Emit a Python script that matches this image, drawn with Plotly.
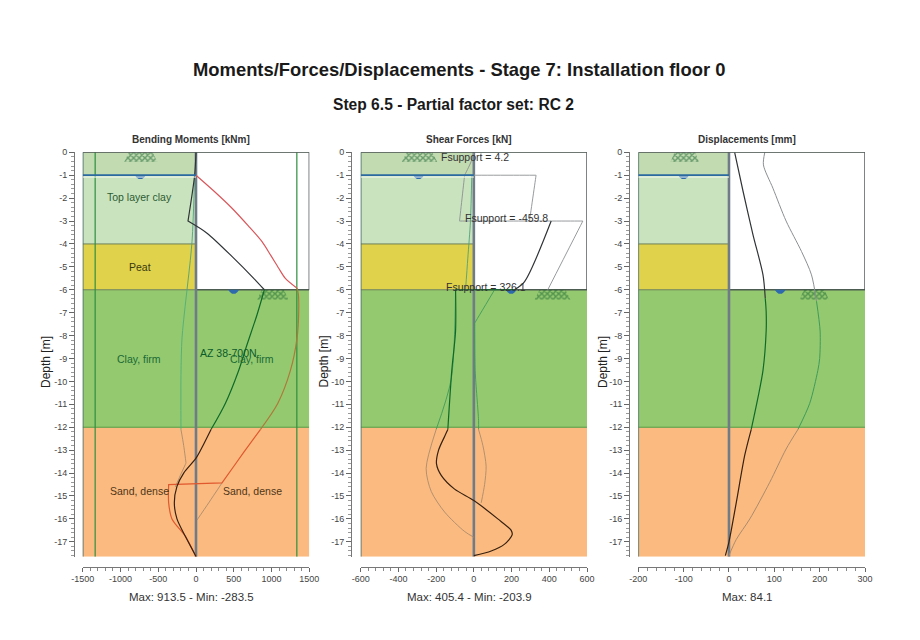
import plotly.graph_objects as go

W, H = 920, 640
MAIN_TITLE = "Moments/Forces/Displacements - Stage 7: Installation floor 0"
SUB_TITLE = "Step 6.5 - Partial factor set: RC 2"
PANEL_TITLES = ["Bending Moments [kNm]", "Shear Forces [kN]", "Displacements [mm]"]
PANEL_NOTES = ["Max: 913.5 - Min: -283.5", "Max: 405.4 - Min: -203.9", "Max: 84.1"]
DEPTH_LABEL = "Depth [m]"
DEPTH_TICKS = [0, -1, -2, -3, -4, -5, -6, -7, -8, -9, -10, -11, -12, -13, -14, -15, -16, -17]

X_TICKS = [[-1500, -1000, -500, 0, 500, 1000, 1500],
           [-600, -400, -200, 0, 200, 400, 600],
           [-200, -100, 0, 100, 200, 300]]
X_RANGES = [(-1500, 1500), (-600, 600), (-200, 300)]
X_MINOR = [100, 40, 20]

# soil layers: top, bottom, colour
LAYER_TOPS = [0, -1, -4, -6, -12]
LAYER_BOTTOMS = [-1, -4, -6, -12, -17.65]
LAYER_COLORS = ["#c2dbb0", "#cae3bf", "#e0d24b", "#94c96f", "#fbbb80"]

# Bending moments (a repeated point is a sharp corner)
M_MAX_DEPTH = [-1, -1, -1.7, -2.44, -3.2, -3.9, -4.5, -5.06, -5.5, -5.93, -5.93, -6.2, -6.95, -8.1, -9.52, -10.96, -12.1, -13.1, -14.43, -14.43, -14.5, -14.5, -15.3, -16, -16.76, -17.64]
M_MAX = [0, 0, 240, 477, 690, 874, 990, 1095, 1183, 1338, 1338, 1355, 1360, 1338, 1250, 1082, 852, 631, 344, 344, -362, -362, -362, -318, -141, 0]
M_TAIL_DEPTH = [-14.43, -15.3, -16.05]
M_TAIL = [344, 168, 13]
M_DES_DEPTH = [0, -1, -3, -3, -3.53, -4.62, -5.5, -6, -6, -7.09, -8.4, -9.52, -10.96, -12.1, -12.75, -13.35, -14, -14.58, -15.3, -16, -16.76, -17.64]
M_DES = [0, -18, -106, -106, 146, 499, 764, 905, 905, 808, 675, 565, 388, 199, 100, 0, -163, -252, -287, -252, -141, 0]
M_MIN_DEPTH = [-1, -3.9, -6, -8.1, -9.7, -12.1, -12.8, -13.56, -13.56, -14.1, -14.6]
M_MIN = [-18, -53, -119, -185, -199, -199, -163, -132, -132, -207, -274]
SHEET_LIMIT = [-1335, 1335]

# Shear forces
V_DES_DEPTH = [-3, -5.64, -6, -6, -6, -7.8, -9.52, -12.1, -12.1, -12.4, -13, -13.6, -14.1, -14.7, -15.2, -16, -16.5, -16.7, -17.1, -17.4, -17.6]
V_DES = [410, 269, 215, -97, -97, -97, -117, -138, -138, -155, -187, -198, -173, -102, 0, 127, 198, 203, 163, 92, 0]
V_UP_DEPTH = [0, -0.4, -1, -1, -1, -1, -3, -3, -3, -3, -6]
V_UP = [0, -14, -49, -49, 330, 330, 295, 295, 578, 578, 392]
V_UP_LEFT_DEPTH = [-1, -1, -3, -3, -3, -3]
V_UP_LEFT = [-49, -49, -76, -76, 295, 295]
V_NEAR_DEPTH = [-1, -3, -4.62, -6]
V_NEAR = [-11, -18, -32, -44]
V_RIGHT_DEPTH = [-6, -7.46, -7.46, -9.52, -11.7, -12.1, -12.8, -13.7, -14.5, -15.3]
V_RIGHT = [110, 4, 4, 7, 25, 25, 48, 65, 57, 39]
V_LEFT_DEPTH = [-6, -9.9, -12.1, -13.8, -14.8, -15.7, -16.55, -16.8]
V_LEFT = [-97, -120, -200, -253, -226, -155, -49, 0]

# Displacements
U_DES_DEPTH = [0, -1.7, -3.6, -5.35, -6.37, -6.95, -7.8, -9.52, -10.7, -12.1, -13.2, -15.3, -17, -17.6]
U_DES = [12.5, 31, 53, 75, 80, 82, 82, 75, 64, 49, 35, 16, 0, -8]
U_ENV_DEPTH = [0, -0.55, -1.57, -3, -4.33, -5.35, -6.5, -7.8, -9, -9.52, -10.96, -12.1, -12.95, -14.4, -16, -16.9, -17.6]
U_ENV = [79, 76, 97, 126, 160, 182, 193, 201, 200, 196, 178, 152, 126, 90, 46, 16, 0]

# symbols: ground hatch and water level positions per panel
HATCH_UPPER = [(-950, -512), (-382, -194), (-129, -66)]
HATCH_LOWER = [(812, 1222), (322, 512), (156, 220)]
WATER_UPPER = [-737, -293, -100]
WATER_LOWER = [499, 198, 113]
LEVELS = [-1, -6]

# soil and force labels
LABEL_PANEL = [0, 0, 0, 0, 0, 0, 0, 1, 1, 1]
LABEL_X = [-751, -740, -751, 745, 428, -751, 745, -186, -57, -158]
LABEL_DEPTH = [-1.97, -5, -9, -9, -8.75, -14.8, -14.8, -0.2, -2.86, -5.87]
LABEL_TEXT = ["Top layer clay", "Peat", "Clay, firm", "Clay, firm", "AZ 38-700N", "Sand, dense", "Sand, dense",
              "Fsupport = 4.2", "Fsupport = -459.8", "Fsupport = 326.1"]
LABEL_COLOR = ["#2d5b32", "#3a3a10", "#1a6a35", "#1a6a35", "#0b5a2a", "#4f3518", "#4f3518", "#333", "#333", "#333"]
LABEL_ANCHOR = ["center"] * 7 + ["left"] * 3

# layout geometry (pixels in the 920x640 picture)
PLOT_L = [82.7, 360.7, 638.3]
PLOT_R = [309.3, 587.0, 865.0]
PLOT_T, PLOT_B = 152.3, 556.7
YAXIS_PX = [74, 351, 629]
XAXIS_PX = 566.5
DEPTH_PX = [46, 323.5, 603]
OFFSET_X, OFFSET_Y = 8, 8
FONT = "Liberation Sans"

BLACK = ("#2f3436", "#0f6a2a", "#38200f")
GREY = ("#8b8f92", "#3f9b5a", "#ac8a6c")
RED = ("#d9565a", "#ad7a3a", "#e0582e")
WALLSIDE = ("#4fa27a", "#4fae7a", "#ac8a6c")

fx = lambda p: (p - OFFSET_X) / W
fy = lambda p: 1 - (p - OFFSET_Y) / H

fig = go.Figure()
shapes, notes = [], []


def curve(panel, xs, ds, colors, width):
    """Draw one curve; colour follows the soil zone as in the source picture."""
    axis = "" if panel == 0 else str(panel + 1)
    def zone(d):
        return 0 if d > -6 else (1 if d > -12 else 2)
    start = 0
    for i in range(1, len(xs) + 1):
        cur = zone((ds[i - 1] + ds[i]) / 2) if i < len(xs) else None
        prev = zone((ds[start] + ds[start + 1]) / 2)
        if cur != prev:
            fig.add_trace(go.Scatter(x=xs[start:i], y=ds[start:i], mode="lines", showlegend=False,
                                     hoverinfo="skip",
                                     line=dict(color=colors[prev], width=width, shape="spline", smoothing=0.8),
                                     xaxis="x" + axis, yaxis="y" + axis))
            start = i - 1


for p in range(3):
    axis = "" if p == 0 else str(p + 1)
    xr, yr = "x" + axis, "y" + axis
    lo, hi = X_RANGES[p]

    for top, bot, col in zip(LAYER_TOPS, LAYER_BOTTOMS, LAYER_COLORS):
        right = 0 if bot >= -6 else hi
        shapes.append(dict(type="rect", xref=xr, yref=yr, x0=lo, x1=right, y0=bot, y1=top,
                           fillcolor=col, line_width=0, layer="below"))
    for level, col, right, w in [(-4, "#6e7f55", 0, 1), (-6, "#4d5c50", hi, 1.4), (-12, "#4f9a3e", hi, 1.2)]:
        shapes.append(dict(type="line", xref=xr, yref=yr, x0=lo if level != -6 else 0, x1=right, y0=level, y1=level,
                           line=dict(color=col, width=w), layer="below"))
    shapes.append(dict(type="line", xref=xr, yref=yr, x0=lo, x1=0, y0=-6, y1=-6,
                       line=dict(color="#6e7f55", width=1), layer="below"))
    shapes.append(dict(type="line", xref=xr, yref=yr, x0=lo, x1=hi, y0=0, y1=0, line=dict(color="#3f4a44", width=1.4)))
    shapes.append(dict(type="line", xref=xr, yref=yr, x0=hi, x1=hi, y0=0, y1=-6, line=dict(color="#4a4f52", width=1.4)))
    shapes.append(dict(type="line", xref=xr, yref=yr, x0=lo, x1=lo, y0=0, y1=-17.65, line=dict(color="#4c6f6a", width=1.6)))
    shapes.append(dict(type="line", xref=xr, yref=yr, x0=lo, x1=0, y0=LEVELS[0] - 0.08, y1=LEVELS[0] - 0.08,
                       line=dict(color="#f2f7ee", width=1)))
    shapes.append(dict(type="line", xref=xr, yref=yr, x0=lo, x1=0, y0=LEVELS[0], y1=LEVELS[0],
                       line=dict(color="#2a6aa0", width=1.8)))

    span = hi - lo
    for (a, b), d in zip([HATCH_UPPER[p], HATCH_LOWER[p]], [0, -6]):
        inset = (b - a) * 0.14
        fig.add_trace(go.Scatter(x=[a + inset, b - inset, b, a, a + inset], y=[d, d, d - 0.42, d - 0.42, d],
                                 fill="toself", mode="none", showlegend=False, hoverinfo="skip",
                                 fillcolor="rgba(0,0,0,0)",
                                 fillpattern=dict(shape="x", fgcolor="#12602d", bgcolor="rgba(0,0,0,0)",
                                                  size=4, solidity=0.6),
                                 xaxis=xr, yaxis=yr))
    for c, d in zip([WATER_UPPER[p], WATER_LOWER[p]], LEVELS):
        r = span * 0.024
        fig.add_trace(go.Scatter(x=[c - r, c - 0.7 * r, c - 0.3 * r, c + 0.3 * r, c + 0.7 * r, c + r],
                                 y=[d, d - 0.1, d - 0.17, d - 0.17, d - 0.1, d],
                                 fill="toself", mode="none", fillcolor="#2f69ad", showlegend=False,
                                 hoverinfo="skip", xaxis=xr, yaxis=yr))

    fig.add_trace(go.Scatter(x=[0, 0], y=[0, -17.65], mode="lines", showlegend=False, hoverinfo="skip",
                             line=dict(color="#6f7c88", width=2.6), xaxis=xr, yaxis=yr))

for lim in SHEET_LIMIT:
    fig.add_trace(go.Scatter(x=[lim, lim], y=[0, -17.65], mode="lines", showlegend=False, hoverinfo="skip",
                             line=dict(color="#2f8f3f", width=1.2), xaxis="x", yaxis="y"))
curve(0, M_MIN, M_MIN_DEPTH, WALLSIDE, 0.9)
curve(0, M_TAIL, M_TAIL_DEPTH, GREY, 0.9)
curve(0, M_MAX, M_MAX_DEPTH, RED, 1.2)
curve(0, M_DES, M_DES_DEPTH, BLACK, 1.2)
curve(1, V_UP, V_UP_DEPTH, GREY, 0.9)
curve(1, V_UP_LEFT, V_UP_LEFT_DEPTH, GREY, 0.9)
curve(1, V_NEAR, V_NEAR_DEPTH, WALLSIDE, 0.9)
curve(1, V_RIGHT, V_RIGHT_DEPTH, GREY, 0.9)
curve(1, V_LEFT, V_LEFT_DEPTH, GREY, 0.9)
curve(1, V_DES, V_DES_DEPTH, BLACK, 1.2)
curve(2, U_ENV, U_ENV_DEPTH, GREY, 1.0)
curve(2, U_DES, U_DES_DEPTH, BLACK, 1.2)


def page_note(text, x, y, size, color, angle=0):
    notes.append(dict(text=text, x=fx(x), y=fy(y), xref="paper", yref="paper", showarrow=False, textangle=angle,
                      xanchor="center", yanchor="middle", font=dict(family=FONT, size=size, color=color)))


page_note(f"<b>{MAIN_TITLE}</b>", 458.5, 69, 18.4, "#1a1a1a")
page_note(f"<b>{SUB_TITLE}</b>", 453, 104, 15.6, "#1a1a1a")
for p in range(3):
    cx = (PLOT_L[p] + PLOT_R[p]) / 2
    page_note(f"<b>{PANEL_TITLES[p]}</b>", cx - 5, 139, 10, "#333")
    page_note(PANEL_NOTES[p], cx - 4.5, 597, 11.5, "#333")
    page_note(DEPTH_LABEL, DEPTH_PX[p], 362, 12, "#222", -90)
for p, x, d, t, c, a in zip(LABEL_PANEL, LABEL_X, LABEL_DEPTH, LABEL_TEXT, LABEL_COLOR, LABEL_ANCHOR):
    axis = "" if p == 0 else str(p + 1)
    notes.append(dict(text=t, x=x, y=d, xref="x" + axis, yref="y" + axis, showarrow=False, xanchor=a, yanchor="middle",
                      font=dict(family=FONT, size=10.5, color=c)))

layout = dict(width=W, height=H, margin=dict(l=0, r=0, t=0, b=0, autoexpand=False), autosize=False, showlegend=False,
              paper_bgcolor="white", plot_bgcolor="rgba(0,0,0,0)", shapes=shapes, annotations=notes,
              hovermode=False)
tick_font = dict(family=FONT, size=9, color="#444")
for p in range(3):
    axis = "" if p == 0 else str(p + 1)
    layout["xaxis" + axis] = dict(
        domain=[fx(PLOT_L[p]), fx(PLOT_R[p])], range=list(X_RANGES[p]), anchor="free", position=fy(XAXIS_PX),
        showgrid=False, zeroline=False, showline=True, linecolor="#777", linewidth=1,
        tickmode="array", tickvals=X_TICKS[p], ticktext=[str(v) for v in X_TICKS[p]],
        ticks="outside", ticklen=4, tickcolor="#666", tickfont=tick_font,
        minor=dict(dtick=X_MINOR[p], ticks="outside", ticklen=3, tickcolor="#888", showgrid=False))
    layout["yaxis" + axis] = dict(
        domain=[fy(PLOT_B), fy(PLOT_T)], range=[-17.65, 0], anchor="free", position=fx(YAXIS_PX[p]),
        showgrid=False, zeroline=False, showline=True, linecolor="#777", linewidth=1,
        tickmode="array", tickvals=DEPTH_TICKS, ticktext=[str(v) for v in DEPTH_TICKS],
        ticks="outside", ticklen=5, tickcolor="#666", tickfont=tick_font,
        minor=dict(dtick=0.2, ticks="outside", ticklen=3, tickcolor="#999", showgrid=False))
fig.update_layout(**layout)
fig.write_html("out.html")
